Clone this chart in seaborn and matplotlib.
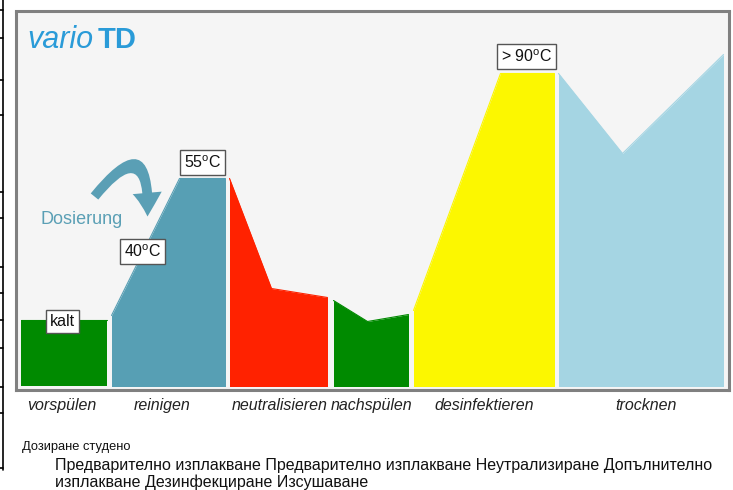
import seaborn as sns
import pandas as pd
import matplotlib.pyplot as plt
from matplotlib.lines import Line2D
from matplotlib.patches import FancyArrowPatch

# phase profiles (time units along x, level above the base line)
phases = ['vorspülen', 'reinigen', 'neutralisieren', 'nachspülen', 'desinfektieren', 'trocknen']
vorspuelen_t = [5, 91]
vorspuelen_lvl = [67, 67]
reinigen_t = [96, 164, 210]
reinigen_lvl = [71, 208, 208]
neutral_t = [214, 256, 312]
neutral_lvl = [208, 98, 89]
nachspuelen_t = [318, 352, 393]
nachspuelen_lvl = [86, 65, 72]
desinf_t = [398, 485, 539]
desinf_lvl = [76, 313, 313]
trocknen_t = [543, 607, 708]
trocknen_lvl = [313, 233, 332]
phase_colors = ['#008a00', '#579fb4', '#ff2200', '#008a00', '#fcf700', '#a5d5e3']

# temperature marks
temp_labels = ['kalt', r'40$^{\rm o}$C', r'55$^{\rm o}$C', r'> 90$^{\rm o}$C']
temp_t = [47, 127, 187, 511]
temp_lvl = [65, 135, 224, 330]

label_x = [62, 162, 280, 372, 484, 646]
bg_note = 'Дозиране студено'
bg_line1 = 'Предварително изплакване Предварително изплакване Неутрализиране Допълнително'
bg_line2 = 'изплакване Дезинфекциране Изсушаване'
left_ticks = [10, 38, 80, 115, 192, 218, 267, 293, 320, 348, 387, 413, 468]

sns.set_theme(style='white')
plt.rcParams['font.family'] = ['Liberation Sans', 'DejaVu Sans']
plt.rcParams['mathtext.fontset'] = 'custom'
plt.rcParams['mathtext.rm'] = 'Liberation Sans'

W, H = 733, 490
fig = plt.figure(figsize=(W / 100, H / 100), dpi=100)
fig.patch.set_facecolor('white')
ax = fig.add_axes([15.5 / W, 1 - 389.5 / H, 713 / W, 378 / H])
ax.set_facecolor('#f5f5f5')
ax.set_xlim(0, 713)
ax.set_ylim(-3, 375)
ax.set_xticks([])
ax.set_yticks([])
for s in ax.spines.values():
    s.set_color('#808080')
    s.set_linewidth(2.2)

profiles = [(vorspuelen_t, vorspuelen_lvl), (reinigen_t, reinigen_lvl), (neutral_t, neutral_lvl),
            (nachspuelen_t, nachspuelen_lvl), (desinf_t, desinf_lvl), (trocknen_t, trocknen_lvl)]
for (t, lvl), c, name in zip(profiles, phase_colors, phases):
    df = pd.DataFrame({'t': t, 'lvl': lvl})
    sns.lineplot(data=df, x='t', y='lvl', color=c, lw=0.8, ax=ax)
    ax.fill_between(df['t'], df['lvl'], 0, color=c, lw=0)
ax.set_xlabel('')
ax.set_ylabel('')

for txt, t, lv in zip(temp_labels, temp_t, temp_lvl):
    ax.text(t, lv, txt, ha='center', va='center', fontsize=11.5, color='#111111',
            bbox=dict(boxstyle='square,pad=0.25', fc='white', ec='#555555', lw=1), zorder=5)

# dosing arrow
arr = FancyArrowPatch((79, 190), (132, 170), connectionstyle='arc3,rad=-1.5',
                      arrowstyle='simple,head_width=2.1,head_length=1.7,tail_width=0.7',
                      mutation_scale=10, color='#5a9fb5', lw=0, shrinkA=0, shrinkB=0, zorder=4)
ax.add_patch(arr)
ax.text(66, 167, 'Dosierung', ha='center', va='center', fontsize=13, color='#5a9fb5')

# logo
ax.text(12, 339, 'vario', ha='left', va='baseline', fontsize=22, style='italic', color='#2a9bd8')
ax.text(82.5, 339, 'TD', ha='left', va='baseline', fontsize=21, weight='bold', color='#2a9bd8')

for name, x in zip(phases, label_x):
    fig.text(x / W, 1 - 405 / H, name, ha='center', va='center', fontsize=11.5,
             style='italic', color='#222222')

fig.text(22 / W, 1 - 447 / H, bg_note, ha='left', va='center', fontsize=9.3, color='#111111')
fig.text(55 / W, 1 - 465 / H, bg_line1, ha='left', va='center', fontsize=11.5, color='#111111')
fig.text(55 / W, 1 - 482 / H, bg_line2, ha='left', va='center', fontsize=11.5, color='#111111')

# table border on the left edge
fig.add_artist(Line2D([2.5 / W, 2.5 / W], [1, 1 - 470 / H], color='black', lw=1.2))
for y in left_ticks:
    fig.add_artist(Line2D([0, 2.5 / W], [1 - y / H, 1 - y / H], color='black', lw=1.2))

fig.savefig('out.png', dpi=100)
